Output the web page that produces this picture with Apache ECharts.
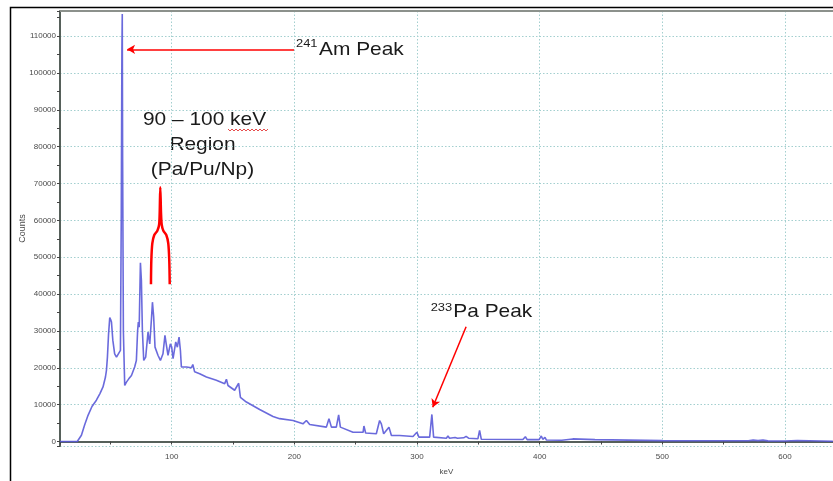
<!DOCTYPE html>
<html>
<head>
<meta charset="utf-8">
<script src="https://cdn.jsdelivr.net/npm/echarts@6/dist/echarts.min.js"></script>
<style>
	html,body{margin:0;padding:0;background:#fff;}
	#chart{width:833px;height:481px;}
</style>
</head>
<body>
<div id="chart"></div>
<script>
	// gamma spectrum: [keV, counts]
	var spectrum = [
		[9,0],[23,0],[24.5,500],[26.4,1700],[29,4500],[31.8,7100],[35,9500],[38.6,11200],[41.5,13000],
		[44,14800],[46,17500],[46.8,19300],[47.6,22900],[48.5,29000],[49.5,33600],[50.3,33000],[50.9,32400],
		[52,27500],[53.5,23800],[55,22900],[56.2,23100],[58.2,24700],[58.9,62000],[59.4,106000],[59.7,116000],
		[60.0,76000],[60.6,30000],[61.7,15200],[63.1,16100],[65,17000],[67.2,17900],[69.8,20200],[71.2,22000],
		[72.2,30000],[72.8,32400],[73.5,31000],[74.5,48500],[75.3,43700],[76.1,30200],[77.2,22000],[78.8,22900],
		[80.7,29700],[81.4,28000],[82.1,26500],[83.5,33300],[84.3,37800],[85.3,33800],[86.4,25600],[88.8,23400],
		[90.8,22000],[92.9,23800],[94.5,28800],[95.7,26100],[97,23400],[98.9,26500],[100,25600],[101.1,22500],
		[103.3,27000],[104.6,25600],[106,28300],[107.1,24700],[107.9,20200],[112,20200],[116.1,20000],[117.2,20900],
		[118.7,18900],[122.8,18400],[128.3,17500],[136.4,16600],[143.2,15700],[144.6,16900],[145.9,15200],
		[151.3,13900],[154.6,15800],[156,12000],[160.9,10700],[171.7,8700],[182.6,6800],[188,6200],[198.9,5700],
		[207,4800],[209.8,5700],[212.5,4600],[226.1,3900],[228.2,6200],[230.2,3900],[234.2,3900],[236.1,7250],
		[237.5,3900],[247.8,2500],[256,2500],[256.7,4200],[258.1,2300],[266.8,2100],[269.5,5700],[270.9,4800],
		[272.8,2100],[277.1,3900],[279.1,1630],[285.8,1630],[296.7,1360],[299.9,2500],[301.5,1200],[310.3,1200],
		[312.1,7340],[313.5,1200],[323.9,900],[325.2,1500],[326.5,900],[331,1100],[332,1500],[333,900],[338,1000],
		[340,1400],[342,900],[349.6,730],[351,3000],[352.4,600],[386.3,550],[388.3,1300],[389.8,500],[399.5,500],
		[401.3,1500],[402.5,600],[404.3,1100],[405.5,400],[416,350],[416.6,800],[418,350],[427,700],[428.5,300],
		[445,500],[446.5,280],[500,250],[550,220],[570,200],[574,380],[578,250],[582,380],[586,180],[600,150],
		[610,280],[611.5,100],[639,60]
	];

	// red brace over the 90-100 keV region
	var braceKeV = [83.1,83.4,84.2,85.8,88.3,89.7,90.2,90.7,91.3,91.9,93.2,95.6,97.2,98.0,98.4];
	var braceCounts = [42650,49240,53770,56020,57190,58740,61910,68960,61910,58740,57190,56020,53770,49240,42650];

	// arrows: [from, to] in keV / counts
	var amArrow = [[199.7,106400],[63.6,106400]];
	var paArrow = [[340,31150],[312.8,9280]];

	var xRange = [8.94, 639.1];
	var yRange = [-1220, 116800];

	var chart = echarts.init(document.getElementById('chart'));

	var brace = [];
	for (var i = 0; i < braceKeV.length; i++) {
		brace.push([braceKeV[i], braceCounts[i]]);
	}

	// spell-check squiggle under "keV"
	var squiggle = [];
	for (var sx = 228; sx <= 268; sx += 2) {
		squiggle.push([sx, (sx / 2) % 2 === 0 ? 129 : 131]);
	}

	var textFont = '19px "Liberation Sans", Arial, sans-serif';
	var supFont = '11.5px "Liberation Sans", Arial, sans-serif';
	var tickFont = {fontFamily: '"Liberation Sans", Arial, sans-serif', fontSize: 8, color: '#4a4a4a'};
	var gridDots = {show: true, lineStyle: {color: '#a3cfcf', width: 1, type: [1.5, 2]}};

	chart.setOption({
		animation: false,
		backgroundColor: '#fff',
		grid: {left: 60, right: 0, top: 11, bottom: 35},
		xAxis: [{
			type: 'value',
			min: xRange[0],
			max: xRange[1],
			minInterval: 100,
			maxInterval: 100,
			name: 'keV',
			nameLocation: 'middle',
			nameGap: 22,
			nameTextStyle: {fontFamily: '"Liberation Sans", Arial, sans-serif', fontSize: 8, color: '#4a4a4a'},
			axisLine: {lineStyle: {color: '#56605a', width: 2}},
			axisTick: {show: true, length: 3, lineStyle: {color: '#444'}},
			minorTick: {show: true, splitNumber: 2, length: 3, lineStyle: {color: '#444'}},
			axisLabel: Object.assign({margin: 7, showMinLabel: false, showMaxLabel: false}, tickFont),
			splitLine: gridDots
		}, {
			type: 'value',
			position: 'top',
			min: xRange[0],
			max: xRange[1],
			axisLine: {lineStyle: {color: '#8c918c', width: 2}},
			axisTick: {show: false},
			axisLabel: {show: false},
			splitLine: {show: false}
		}],
		yAxis: {
			type: 'value',
			min: yRange[0],
			max: yRange[1],
			minInterval: 10000,
			maxInterval: 10000,
			name: 'Counts',
			nameLocation: 'middle',
			nameGap: 33,
			nameMoveOverlap: false,
			nameTextStyle: {fontFamily: '"Liberation Sans", Arial, sans-serif', fontSize: 9, color: '#4a4a4a'},
			axisLine: {show: true, lineStyle: {color: '#56605a', width: 2}},
			axisTick: {show: true, length: 3, lineStyle: {color: '#444'}},
			minorTick: {show: true, splitNumber: 2, length: 3, lineStyle: {color: '#444'}},
			axisLabel: Object.assign({
				margin: 4,
				showMinLabel: false,
				showMaxLabel: false,
				formatter: function(v){ return String(v); }
			}, tickFont),
			splitLine: gridDots
		},
		series: [{
			type: 'line',
			name: 'spectrum',
			data: spectrum,
			showSymbol: false,
			clip: true,
			lineStyle: {color: '#5a5ad8', width: 1.6, opacity: 0.9}
		}, {
			type: 'line',
			name: 'brace',
			data: brace,
			showSymbol: false,
			smooth: 0.3,
			silent: true,
			lineStyle: {color: '#ff0000', width: 2.5},
			markLine: {
				silent: true,
				symbol: ['none', 'arrow'],
				symbolSize: [7, 8],
				label: {show: false},
				lineStyle: {color: '#ff0000', width: 1.5, type: 'solid', opacity: 1},
				emphasis: {disabled: true},
				data: [
					[{coord: amArrow[0]}, {coord: amArrow[1]}],
					[{coord: paArrow[0]}, {coord: paArrow[1]}]
				]
			}
		}],
		graphic: [
			{type: 'polyline', shape: {points: [[10.5, 481], [10.5, 7.5], [833, 7.5]]}, style: {stroke: '#000', lineWidth: 1.5, fill: null}},
			{type: 'text', x: 296, y: 44, scaleX: 1.12, style: {text: '241', font: supFont, fill: '#1a1a1a', align: 'left', verticalAlign: 'middle'}},
			{type: 'text', x: 319, y: 50, scaleX: 1.1, style: {text: 'Am Peak', font: textFont, fill: '#1a1a1a', align: 'left', verticalAlign: 'middle'}},
			{type: 'text', x: 204.5, y: 120, scaleX: 1.1, style: {text: '90 \u2013 100 keV', font: textFont, fill: '#1a1a1a', align: 'center', verticalAlign: 'middle'}},
			{type: 'text', x: 202.5, y: 145, scaleX: 1.1, style: {text: 'Region', font: textFont, fill: '#1a1a1a', align: 'center', verticalAlign: 'middle'}},
			{type: 'text', x: 202.5, y: 170, scaleX: 1.1, style: {text: '(Pa/Pu/Np)', font: textFont, fill: '#1a1a1a', align: 'center', verticalAlign: 'middle'}},
			{type: 'polyline', shape: {points: squiggle}, style: {stroke: '#e02020', lineWidth: 0.8, fill: null}},
			{type: 'text', x: 430.7, y: 307.5, scaleX: 1.12, style: {text: '233', font: supFont, fill: '#1a1a1a', align: 'left', verticalAlign: 'middle'}},
			{type: 'text', x: 453.3, y: 312, scaleX: 1.1, style: {text: 'Pa Peak', font: textFont, fill: '#1a1a1a', align: 'left', verticalAlign: 'middle'}}
		]
	});
</script>
</body>
</html>
